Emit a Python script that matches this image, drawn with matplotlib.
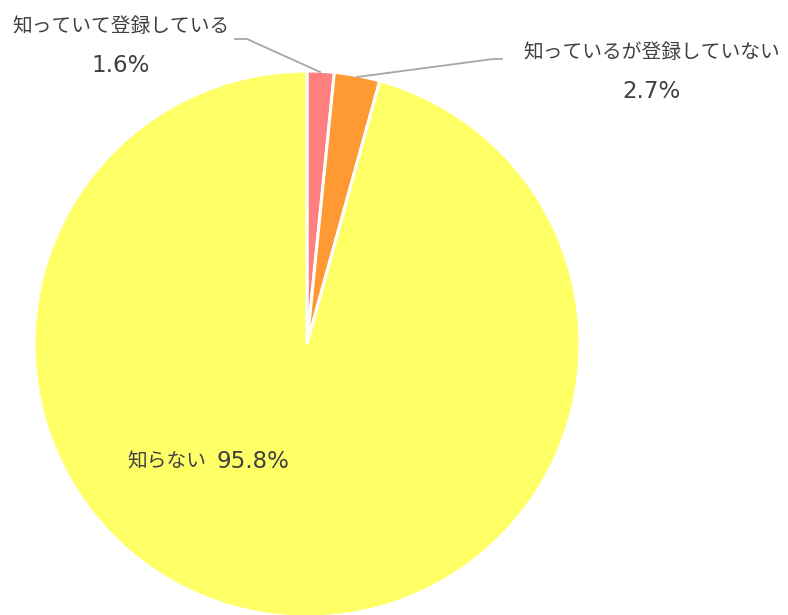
import matplotlib
matplotlib.use("Agg")
import matplotlib.pyplot as plt

plt.rcParams['font.family'] = ['Noto Sans CJK JP', 'DejaVu Sans']

categories = ["知っていて登録している", "知っているが登録していない", "知らない"]
values = [1.6, 2.7, 95.8]
colors = ["#FF7F7F", "#FF9933", "#FFFF66"]

W, H = 788, 615
fig = plt.figure(figsize=(W / 100, H / 100), dpi=100)
ax = fig.add_axes([0, 0, 1, 1])
ax.set_xlim(0, W)
ax.set_ylim(0, H)
ax.set_aspect('equal')
ax.axis('off')

cx, cy, r = 307, H - 344, 273
ax.pie(values, colors=colors, startangle=90, counterclock=False,
       center=(cx, cy), radius=r, normalize=True,
       wedgeprops=dict(edgecolor='white', linewidth=2.2))
ax.set_xlim(0, W)
ax.set_ylim(0, H)

text_color = "#404040"
line_color = "#A6A6A6"
fs_jp = 14.2
fs_num = 16.5
num_font = ['DejaVu Sans']

# leader lines for the two small slices
ax.plot([320, 247, 235], [H - 72, H - 39, H - 39], color=line_color, lw=1.3)
ax.plot([357, 493, 502], [H - 77, H - 59, H - 59], color=line_color, lw=1.3)

ax.text(121, H - 27, categories[0], ha='center', va='center', fontsize=fs_jp, color=text_color)
ax.text(121, H - 66, f"{values[0]}%", ha='center', va='center', fontsize=fs_num,
        color=text_color, family=num_font)
ax.text(652, H - 52, categories[1], ha='center', va='center', fontsize=fs_jp, color=text_color)
ax.text(652, H - 92, f"{values[1]}%", ha='center', va='center', fontsize=fs_num,
        color=text_color, family=num_font)
ax.text(206, H - 462, categories[2], ha='right', va='center', fontsize=fs_jp, color=text_color)
ax.text(217, H - 462, f"{values[2]}%", ha='left', va='center', fontsize=fs_num,
        color=text_color, family=num_font)

fig.savefig("out.png", dpi=100)
